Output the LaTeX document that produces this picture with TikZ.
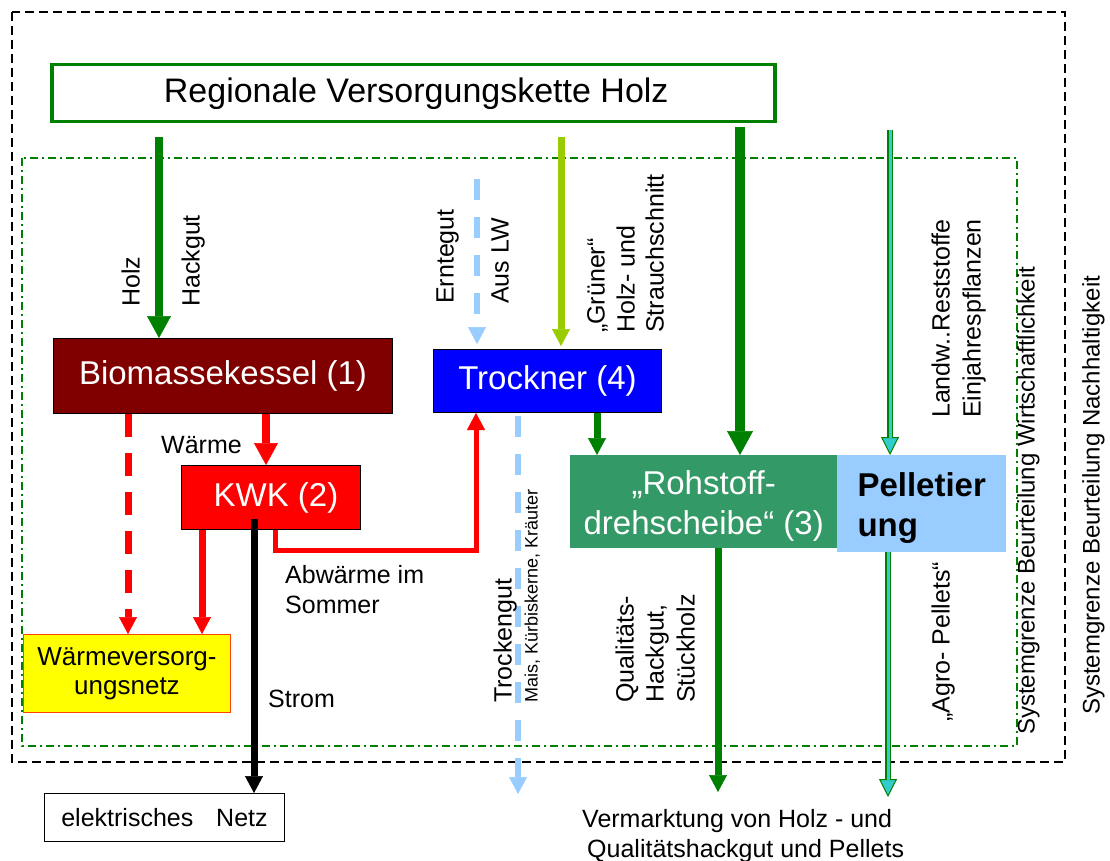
\documentclass[tikz,border=0pt]{standalone}
\usepackage{fontspec}
\setmainfont{Liberation Sans}
\usetikzlibrary{arrows.meta}

\definecolor{dgreen}{RGB}{0,128,0}
\definecolor{ygreen}{RGB}{153,204,0}
\definecolor{lblue}{RGB}{153,204,255}
\definecolor{dred}{RGB}{128,0,0}
\definecolor{pblue}{RGB}{0,0,255}
\definecolor{pred}{RGB}{255,0,0}
\definecolor{pyellow}{RGB}{255,255,0}
\definecolor{sgreen}{RGB}{51,153,102}
\definecolor{tcyan}{RGB}{51,204,204}
\definecolor{borange}{RGB}{255,70,0}

\begin{document}
\begin{tikzpicture}[x=1pt,y=-1pt,
  lbl/.style={font=\fontsize{25}{29}\selectfont, inner sep=0pt},
  rlbl/.style={lbl, rotate=90, anchor=west, text height=18pt, text depth=5pt},
  hlbl/.style={lbl, anchor=base west},
  boxnode/.style={anchor=north west, inner sep=0pt, align=center,
    font=\fontsize{33}{40}\selectfont},
  tipL/.style={-{Triangle[width=24pt,length=22pt,line width=0.5pt]}},
  tipS/.style={-{Triangle[width=18pt,length=17pt,line width=0.5pt]}},
  cyanarrow/.style={draw=dgreen, line width=6pt,
    -{Triangle[width=18pt,length=18pt,line width=1pt,fill=tcyan]},
    postaction={draw=tcyan, line width=3pt, -, shorten >=17pt}},
  bluedash/.style={lblue, line width=6pt, dash pattern=on 21pt off 17pt, tipS},
  reddash/.style={pred, line width=7pt, dash pattern=on 23pt off 16pt, tipS}
]
\useasboundingbox (0,0) rectangle (1110,861);

% system boundaries
\draw[black, line width=2.5pt, dash pattern=on 9pt off 5pt] (12,12) rectangle (1065,762);
\draw[dgreen, line width=2.2pt, dash pattern=on 8pt off 4pt on 2pt off 4pt] (22,158) rectangle (1017,746);

% boxes
\node[boxnode, draw=dgreen, line width=3.5pt, fill=white, minimum width=723pt, minimum height=57pt,
  font=\fontsize{34}{40}\selectfont] (title) at (50,63) {\hspace*{6pt}Regionale Versorgungskette Holz};
\node[boxnode, draw=black, line width=1pt, fill=dred, text=white, minimum width=339pt, minimum height=75pt]
  (bio) at (53,338) {Biomassekessel (1)};
\node[boxnode, draw=black, line width=1pt, fill=pblue, text=white, minimum width=228pt, minimum height=63pt]
  (trock) at (433,349) {Trockner (4)};
\node[boxnode, draw=black, line width=1pt, fill=pred, text=white, minimum width=179pt, minimum height=64pt]
  (kwk) at (181,465) {\hspace*{10pt}KWK (2)};
\node[boxnode, draw=borange, line width=1pt, fill=pyellow, minimum width=207pt, minimum height=78pt,
  font=\fontsize{26}{29}\selectfont] (wnetz) at (23,634) {Wärmeversorg-\\ungsnetz};
\node[boxnode, draw=black, line width=1pt, fill=white, minimum width=240pt, minimum height=48pt,
  font=\fontsize{25}{29}\selectfont] (enetz) at (44,793) {elektrisches\hspace{16pt} Netz};
\node[boxnode, fill=sgreen, text=white, minimum width=267pt, minimum height=93pt]
  (rohst) at (570,455) {\rule{0pt}{32pt}„Rohstoff-\\drehscheibe“ (3)};
\node[boxnode, fill=lblue, align=left, minimum width=169pt, minimum height=97pt,
  font=\fontsize{33}{40}\selectfont\bfseries] (pell) at (837,455) {\rule{0pt}{32pt}Pelletier\\ung};

% free ends of the incoming and outgoing flows
\coordinate (sHolz) at (159,137);
\coordinate (sErnte) at (477,179);
\coordinate (sGruen) at (561,137);
\coordinate (sWald) at (740,127);
\coordinate (sAgro) at (890,130);
\coordinate (eTrocken) at (518,794);
\coordinate (eHolz) at (718,792);
\coordinate (ePellet) at (888,797);
\coordinate (xDash) at (128,0);
\coordinate (xWaerme) at (266,0);
\coordinate (xNetz) at (202,0);
\coordinate (xStrom) at (254,0);
\coordinate (xAbw) at (275,0);
\coordinate (yAbw) at (0,550);
\coordinate (xAbwT) at (476,0);
\coordinate (xTrR) at (597,0);

% inputs from the supply chain
\draw[dgreen, line width=8pt, tipL] (sHolz) -- (sHolz |- bio.north);
\draw[bluedash, shorten >=5pt] (sErnte) -- (sErnte |- trock.north);
\draw[ygreen, line width=7pt, tipS, shorten >=3pt] (sGruen) -- (sGruen |- trock.north);
\draw[dgreen, line width=10pt, -{Triangle[width=26pt,length=24pt,line width=0.5pt]}] (sWald) -- (sWald |- rohst.north);
\draw[cyanarrow] (sAgro) -- (sAgro |- pell.north);

% heat and power
\draw[pred, line width=8pt, tipL] (bio.south -| xWaerme) -- (kwk.north -| xWaerme);
\draw[reddash] (bio.south -| xDash) -- (wnetz.north -| xDash);
\draw[pred, line width=7pt, tipS] (kwk.south -| xNetz) -- (wnetz.north -| xNetz);
\draw[black, line width=7pt, tipS] ([yshift=11pt]kwk.south -| xStrom) -- (enetz.north -| xStrom);
\draw[pred, line width=5pt, tipS] (kwk.south -| xAbw) -- (xAbw |- yAbw) -| (trock.south -| xAbwT);

% dryer and outputs
\draw[bluedash] ([yshift=-3pt]trock.south -| eTrocken) -- (eTrocken);
\draw[dgreen, line width=7pt, tipS] (trock.south -| xTrR) -- (rohst.north -| xTrR);
\draw[dgreen, line width=7pt, tipS] (rohst.south -| eHolz) -- (eHolz);
\draw[cyanarrow] (pell.south -| ePellet) -- (ePellet);

% rotated labels
\node[rlbl] (lHolz) at (133,307) {Holz};
\node[rlbl] (lHack) at (193,307) {Hackgut};
\node[rlbl] (lErnte) at (447,304) {Erntegut};
\node[rlbl] (lAus) at (502,304) {Aus LW};
\node[rlbl] (lGr1) at (598,333) {„Grüner“};
\node[rlbl] (lGr2) at (628,333) {Holz- und};
\node[rlbl] (lGr3) at (657,333) {Strauchschnitt};
\node[rlbl] (lLw1) at (943,418) {Landw..Reststoffe};
\node[rlbl] (lLw2) at (974,418) {Einjahrespflanzen};
\node[rlbl, font=\fontsize{24}{28}\selectfont] (lSysW) at (1028,735) {Systemgrenze Beurteilung Wirtschaftlichkeit};
\node[rlbl, font=\fontsize{24}{28}\selectfont] (lSysN) at (1093,715) {Systemgrenze Beurteilung Nachhaltigkeit};
\node[rlbl] (lTr1) at (505,703) {Trockengut};
\node[rlbl, font=\fontsize{18}{22}\selectfont, text height=13pt, text depth=4pt] (lTr2) at (533,703) {Mais, Kürbiskerne, Kräuter};
\node[rlbl] (lQ1) at (627,703) {Qualitäts-};
\node[rlbl] (lQ2) at (657,703) {Hackgut,};
\node[rlbl] (lQ3) at (688,703) {Stückholz};
\node[rlbl] (lAgro) at (943,722) {„Agro- Pellets“};

% horizontal labels
\node[hlbl] (lWaerme) at (161,453) {Wärme};
\node[hlbl] (lAbw1) at (285,583) {Abwärme im};
\node[hlbl] (lAbw2) at (285,613) {Sommer};
\node[hlbl] (lStrom) at (268,707) {Strom};
\node[hlbl] (lVm1) at (582,827) {Vermarktung von Holz - und};
\node[hlbl] (lVm2) at (587,857) {Qualitätshackgut und Pellets};
\end{tikzpicture}
\end{document}
